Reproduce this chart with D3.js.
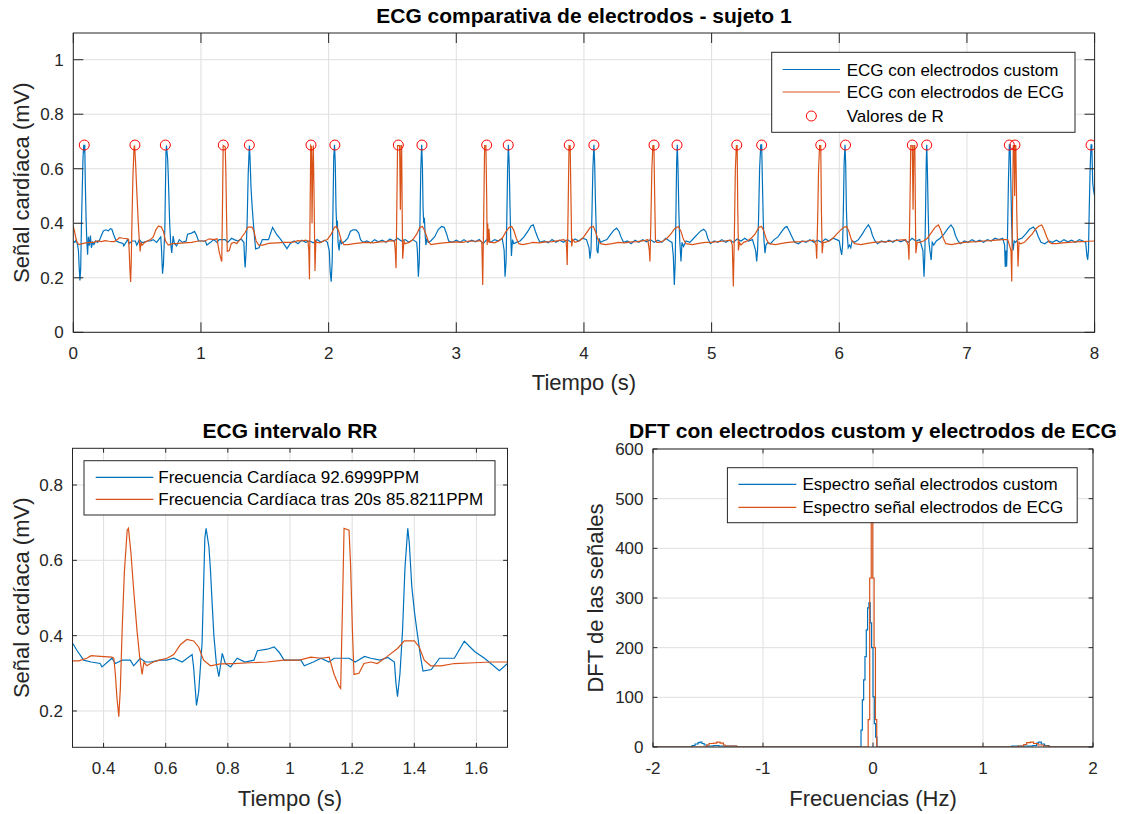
<!DOCTYPE html>
<html>
<head>
<meta charset="utf-8">
<script src="https://cdn.jsdelivr.net/npm/d3@7/dist/d3.min.js"></script>
<style>
body{margin:0;background:#fff}
svg{font-family:"Liberation Sans",Arial,Helvetica,sans-serif}
</style>
</head>
<body>
<svg id="fig" width="1132" height="814"></svg>
<script>
// ECG con electrodos custom  [tiempo (s), mV]
var ecgCustom=[
[0,0.335],[0.012,0.33],[0.022,0.338],[0.032,0.325],[0.040,0.30],[0.046,0.24],[0.052,0.19],[0.058,0.235],[0.064,0.40],[0.070,0.52],[0.076,0.64],[0.082,0.688],[0.086,0.66],[0.090,0.688],[0.094,0.55],[0.100,0.42],[0.106,0.335],[0.112,0.285],[0.118,0.35],[0.126,0.318],[0.134,0.355],[0.142,0.31],[0.152,0.33],[0.162,0.322],[0.175,0.335],[0.19,0.33],[0.205,0.338],[0.22,0.355],[0.235,0.372],[0.255,0.376],[0.275,0.372],[0.29,0.38],
[0.302,0.378],[0.315,0.36],[0.336,0.335],[0.36,0.33],[0.389,0.326],[0.395,0.317],[0.427,0.34],[0.438,0.326],[0.46,0.335],[0.486,0.335],[0.497,0.32],[0.518,0.34],[0.535,0.33],[0.551,0.33],[0.58,0.335],[0.604,0.335],[0.626,0.34],[0.653,0.33],[0.685,0.35],[0.69,0.314],[0.699,0.215],[0.706,0.25],[0.717,0.38],[0.726,0.66],[0.730,0.685],[0.739,0.636],[0.744,0.575],[0.75,0.477],[0.755,0.40],[0.763,0.326],[0.771,0.291],[0.782,0.353],[0.792,0.326],[0.809,0.317],[0.83,0.34],[0.855,0.33],[0.884,0.335],[0.895,0.36],[0.927,0.364],[0.949,0.37],[0.965,0.356],[0.981,0.335],[1.035,0.335],[1.046,0.32],[1.075,0.33],[1.10,0.34],[1.125,0.33],[1.142,0.34],[1.19,0.34],[1.21,0.33],[1.24,0.345],[1.26,0.34],[1.29,0.335],[1.315,0.342],[1.336,0.33],[1.341,0.274],[1.346,0.238],[1.354,0.30],[1.362,0.41],[1.37,0.58],[1.379,0.685],[1.384,0.645],[1.392,0.53],[1.401,0.46],[1.409,0.41],[1.42,0.345],[1.428,0.306],[1.455,0.31],[1.481,0.34],[1.529,0.34],[1.561,0.385],[1.594,0.358],[1.626,0.34],[1.674,0.307],[1.70,0.326],
[1.73,0.335],[1.76,0.325],[1.79,0.338],[1.82,0.33],[1.85,0.335],[1.88,0.328],[1.91,0.34],[1.94,0.33],[1.97,0.338],[1.99,0.33],[2.005,0.30],[2.012,0.223],[2.02,0.186],[2.028,0.26],[2.034,0.45],[2.040,0.64],[2.046,0.688],[2.052,0.62],[2.058,0.45],[2.064,0.38],[2.068,0.41],[2.074,0.33],[2.082,0.30],[2.09,0.34],[2.10,0.325],[2.115,0.33],[2.13,0.335],[2.15,0.345],[2.17,0.37],[2.19,0.376],[2.215,0.376],[2.235,0.365],[2.25,0.34],[2.27,0.33],[2.30,0.335],
[2.33,0.328],[2.36,0.34],[2.39,0.332],[2.42,0.338],[2.45,0.33],[2.48,0.342],[2.51,0.335],[2.54,0.345],[2.57,0.335],[2.60,0.34],[2.63,0.33],[2.66,0.34],[2.69,0.33],[2.695,0.30],[2.703,0.204],[2.71,0.26],[2.716,0.42],[2.722,0.60],[2.729,0.688],[2.735,0.60],[2.74,0.45],[2.745,0.40],[2.75,0.42],[2.756,0.36],[2.762,0.32],[2.77,0.345],[2.78,0.33],[2.80,0.335],[2.83,0.35],[2.86,0.378],[2.885,0.388],[2.905,0.385],[2.925,0.36],[2.94,0.335],[2.97,0.33],[3.00,0.338],
[3.03,0.33],[3.06,0.34],[3.09,0.33],[3.12,0.338],[3.15,0.332],[3.18,0.34],[3.21,0.325],[3.24,0.34],[3.27,0.33],[3.30,0.34],[3.33,0.335],[3.36,0.345],[3.375,0.30],[3.382,0.204],[3.39,0.26],[3.396,0.42],[3.402,0.60],[3.408,0.688],[3.414,0.62],[3.42,0.48],[3.426,0.36],[3.432,0.28],[3.44,0.34],[3.45,0.325],[3.47,0.33],[3.50,0.335],[3.53,0.35],[3.56,0.37],[3.585,0.39],[3.603,0.394],[3.62,0.37],[3.64,0.345],[3.655,0.33],[3.69,0.335],
[3.72,0.328],[3.75,0.34],[3.78,0.33],[3.81,0.338],[3.84,0.33],[3.87,0.34],[3.90,0.33],[3.93,0.342],[3.96,0.335],[3.99,0.345],[4.02,0.34],[4.04,0.31],[4.047,0.27],[4.055,0.30],[4.062,0.42],[4.070,0.60],[4.078,0.688],[4.084,0.62],[4.09,0.48],[4.096,0.38],[4.102,0.30],[4.11,0.29],[4.118,0.345],[4.13,0.33],[4.15,0.335],[4.18,0.34],[4.21,0.36],[4.235,0.375],[4.256,0.382],[4.275,0.37],[4.29,0.35],[4.31,0.33],[4.34,0.335],[4.37,0.325],[4.40,0.338],[4.43,0.33],[4.46,0.34],[4.49,0.332],[4.52,0.34],[4.55,0.33],[4.58,0.338],[4.61,0.33],[4.64,0.345],[4.67,0.335],[4.69,0.33],[4.70,0.28],[4.708,0.174],[4.715,0.26],[4.72,0.42],[4.726,0.62],[4.731,0.688],[4.737,0.60],[4.743,0.45],[4.75,0.34],[4.755,0.30],[4.76,0.26],[4.768,0.33],[4.78,0.315],[4.80,0.335],[4.83,0.33],[4.86,0.345],[4.89,0.36],[4.915,0.372],[4.938,0.378],[4.955,0.37],[4.97,0.345],[4.99,0.325],
[5.02,0.335],[5.05,0.33],[5.08,0.34],[5.11,0.33],[5.14,0.338],[5.17,0.33],[5.20,0.342],[5.23,0.335],[5.26,0.345],[5.29,0.335],[5.32,0.34],[5.345,0.30],[5.353,0.26],[5.36,0.30],[5.368,0.42],[5.376,0.60],[5.385,0.688],[5.392,0.688],[5.398,0.55],[5.404,0.42],[5.41,0.34],[5.418,0.29],[5.426,0.32],[5.44,0.33],[5.46,0.325],[5.49,0.34],[5.52,0.35],[5.55,0.37],[5.575,0.385],[5.59,0.388],[5.61,0.37],[5.63,0.35],[5.65,0.33],[5.68,0.325],[5.71,0.335],[5.74,0.33],[5.77,0.34],[5.80,0.33],[5.83,0.338],[5.86,0.33],[5.89,0.342],[5.92,0.335],[5.95,0.345],[5.98,0.34],[6.00,0.335],[6.012,0.30],[6.019,0.284],[6.026,0.32],[6.032,0.45],[6.038,0.62],[6.045,0.688],[6.05,0.62],[6.056,0.45],[6.062,0.36],[6.07,0.31],[6.08,0.32],[6.09,0.31],[6.10,0.335],[6.12,0.33],[6.15,0.34],[6.18,0.36],[6.205,0.38],[6.228,0.394],[6.245,0.38],[6.26,0.355],[6.28,0.335],[6.30,0.325],
[6.33,0.335],[6.36,0.33],[6.39,0.338],[6.42,0.33],[6.45,0.34],[6.48,0.332],[6.51,0.338],[6.54,0.33],[6.57,0.345],[6.60,0.335],[6.63,0.34],[6.655,0.30],[6.664,0.204],[6.67,0.28],[6.676,0.45],[6.681,0.62],[6.685,0.688],[6.69,0.60],[6.696,0.45],[6.702,0.33],[6.71,0.30],[6.72,0.265],[6.728,0.33],[6.74,0.32],[6.76,0.335],[6.79,0.345],[6.82,0.36],[6.85,0.38],[6.875,0.394],[6.895,0.38],[6.91,0.355],[6.93,0.335],[6.95,0.325],[6.98,0.335],
[7.01,0.33],[7.04,0.34],[7.07,0.332],[7.10,0.338],[7.13,0.33],[7.16,0.34],[7.19,0.335],[7.22,0.345],[7.25,0.34],[7.28,0.345],[7.295,0.32],[7.30,0.24],[7.306,0.30],[7.311,0.241],[7.318,0.36],[7.325,0.55],[7.332,0.688],[7.338,0.688],[7.344,0.55],[7.35,0.40],[7.356,0.33],[7.362,0.30],[7.37,0.335],[7.38,0.33],[7.40,0.34],[7.43,0.345],[7.46,0.36],[7.49,0.378],[7.52,0.386],[7.54,0.375],[7.56,0.35],[7.58,0.33],[7.61,0.325],[7.64,0.335],[7.67,0.33],[7.70,0.338],[7.73,0.33],[7.76,0.34],[7.79,0.332],[7.82,0.338],[7.85,0.33],[7.88,0.34],[7.91,0.335],[7.93,0.33],[7.94,0.28],[7.946,0.266],[7.952,0.30],[7.958,0.45],[7.965,0.60],[7.972,0.688],[7.978,0.688],[7.985,0.55],[7.992,0.52],[8.0,0.50]
]

// ECG con electrodos de ECG  [tiempo (s), mV]
var ecgStandard=[
[0,0.388],[0.01,0.37],[0.02,0.345],[0.03,0.33],[0.045,0.322],[0.07,0.325],[0.10,0.328],[0.13,0.33],[0.16,0.33],[0.19,0.335],[0.22,0.333],[0.25,0.336],[0.28,0.334],
[0.301,0.333],[0.32,0.333],[0.346,0.34],[0.36,0.347],[0.389,0.345],[0.427,0.343],[0.433,0.34],[0.438,0.297],[0.443,0.235],[0.449,0.185],[0.454,0.26],[0.46,0.42],[0.467,0.57],[0.476,0.68],[0.48,0.685],[0.488,0.62],[0.497,0.52],[0.508,0.41],[0.516,0.345],[0.524,0.297],[0.53,0.33],[0.539,0.32],[0.56,0.33],[0.58,0.335],[0.604,0.34],[0.626,0.35],[0.647,0.376],[0.668,0.39],[0.69,0.386],[0.706,0.37],[0.722,0.335],[0.744,0.32],[0.776,0.325],[0.819,0.326],[0.87,0.328],[0.927,0.33],[0.98,0.335],[1.03,0.335],[1.067,0.343],[1.10,0.34],[1.126,0.343],[1.142,0.297],[1.158,0.266],[1.163,0.26],[1.169,0.48],[1.174,0.685],[1.19,0.68],[1.195,0.587],[1.201,0.41],[1.206,0.297],[1.222,0.30],[1.238,0.326],[1.26,0.33],[1.281,0.326],[1.313,0.345],[1.346,0.366],[1.368,0.386],[1.40,0.386],[1.416,0.37],[1.432,0.335],[1.453,0.32],[1.486,0.32],[1.529,0.326],[1.594,0.328],[1.65,0.33],[1.70,0.33],
[1.73,0.332],[1.76,0.336],[1.79,0.335],[1.82,0.338],[1.838,0.335],[1.845,0.30],[1.850,0.195],[1.855,0.45],[1.860,0.685],[1.866,0.68],[1.870,0.40],[1.875,0.60],[1.880,0.685],[1.886,0.50],[1.893,0.225],[1.90,0.335],[1.91,0.33],[1.93,0.328],[1.96,0.335],[1.99,0.34],[2.02,0.36],[2.045,0.385],[2.063,0.388],[2.08,0.37],[2.10,0.335],[2.12,0.322],[2.15,0.322],[2.20,0.325],[2.25,0.328],[2.30,0.33],[2.35,0.328],[2.40,0.332],[2.45,0.333],[2.49,0.336],[2.515,0.335],
[2.522,0.30],[2.528,0.235],[2.534,0.45],[2.54,0.685],[2.556,0.685],[2.562,0.45],[2.568,0.685],[2.572,0.685],[2.577,0.40],[2.58,0.27],[2.59,0.335],[2.60,0.325],[2.63,0.33],[2.66,0.34],[2.69,0.36],[2.715,0.385],[2.735,0.388],[2.755,0.37],[2.78,0.335],[2.80,0.322],[2.85,0.325],[2.90,0.328],[2.95,0.33],[3.00,0.332],[3.05,0.33],[3.10,0.335],[3.15,0.334],[3.19,0.336],
[3.20,0.33],[3.207,0.174],[3.214,0.40],[3.222,0.685],[3.232,0.685],[3.238,0.50],[3.242,0.32],[3.246,0.40],[3.25,0.33],[3.256,0.38],[3.262,0.33],[3.275,0.33],[3.30,0.328],[3.33,0.335],[3.36,0.345],[3.39,0.37],[3.415,0.385],[3.434,0.388],[3.45,0.375],[3.47,0.345],[3.49,0.325],[3.52,0.322],[3.56,0.325],[3.60,0.33],[3.65,0.328],[3.70,0.332],[3.75,0.333],[3.80,0.336],[3.84,0.34],[3.86,0.335],
[3.865,0.30],[3.869,0.247],[3.876,0.45],[3.883,0.685],[3.892,0.685],[3.898,0.50],[3.904,0.315],[3.912,0.34],[3.93,0.33],[3.96,0.335],[3.99,0.345],[4.02,0.365],[4.05,0.385],[4.073,0.388],[4.09,0.37],[4.11,0.34],[4.13,0.325],[4.17,0.322],[4.22,0.325],[4.27,0.33],[4.32,0.328],[4.37,0.332],[4.42,0.333],[4.47,0.336],[4.50,0.34],
[4.512,0.30],[4.517,0.26],[4.524,0.40],[4.532,0.60],[4.540,0.685],[4.548,0.685],[4.554,0.50],[4.56,0.34],[4.57,0.33],[4.59,0.33],[4.62,0.335],[4.65,0.345],[4.68,0.36],[4.71,0.38],[4.739,0.388],[4.76,0.37],[4.78,0.34],[4.80,0.325],[4.85,0.322],[4.90,0.326],[4.95,0.33],[5.00,0.33],[5.05,0.333],[5.10,0.335],[5.15,0.338],
[5.162,0.32],[5.17,0.168],[5.178,0.35],[5.186,0.60],[5.194,0.685],[5.20,0.685],[5.205,0.45],[5.21,0.30],[5.218,0.33],[5.23,0.32],[5.25,0.33],[5.28,0.335],[5.31,0.345],[5.34,0.36],[5.37,0.385],[5.392,0.388],[5.41,0.37],[5.43,0.34],[5.45,0.325],[5.50,0.322],[5.55,0.326],[5.60,0.33],[5.65,0.332],[5.70,0.333],[5.75,0.335],[5.80,0.338],
[5.818,0.32],[5.823,0.27],[5.83,0.40],[5.838,0.60],[5.846,0.685],[5.855,0.685],[5.86,0.45],[5.866,0.29],[5.874,0.33],[5.89,0.33],[5.92,0.335],[5.95,0.345],[5.98,0.36],[6.01,0.375],[6.035,0.385],[6.058,0.388],[6.075,0.37],[6.095,0.34],[6.12,0.325],[6.17,0.322],[6.22,0.326],[6.27,0.33],[6.32,0.332],[6.37,0.333],[6.42,0.335],[6.47,0.338],[6.52,0.34],
[6.54,0.32],[6.546,0.266],[6.553,0.45],[6.56,0.685],[6.572,0.685],[6.578,0.45],[6.584,0.685],[6.592,0.685],[6.597,0.40],[6.60,0.29],[6.61,0.33],[6.63,0.33],[6.66,0.335],[6.69,0.345],[6.72,0.365],[6.75,0.385],[6.776,0.394],[6.795,0.375],[6.815,0.345],[6.835,0.325],[6.88,0.322],[6.93,0.326],[6.98,0.33],[7.03,0.332],[7.08,0.333],[7.13,0.335],[7.18,0.336],[7.23,0.338],[7.28,0.34],[7.32,0.34],[7.345,0.30],
[7.351,0.186],[7.357,0.45],[7.363,0.685],[7.37,0.685],[7.374,0.50],[7.378,0.685],[7.383,0.685],[7.39,0.45],[7.40,0.241],[7.408,0.33],[7.42,0.325],[7.45,0.33],[7.48,0.345],[7.51,0.36],[7.54,0.38],[7.565,0.39],[7.586,0.394],[7.605,0.375],[7.625,0.35],[7.645,0.33],[7.665,0.325],[7.70,0.325],[7.75,0.328],[7.80,0.33],[7.85,0.332],[7.90,0.333],[7.95,0.334],[8.0,0.335]
]

// Valores de R
var rPeakT=[0.086,0.483,0.721,1.175,1.379,1.862,2.049,2.546,2.731,3.238,3.407,3.885,4.078,4.549,4.729,5.197,5.392,5.855,6.049,6.572,6.685,7.332,7.376,7.972]
var rPeakV=[0.687,0.687,0.687,0.687,0.687,0.687,0.687,0.687,0.687,0.687,0.687,0.687,0.687,0.687,0.687,0.687,0.687,0.687,0.687,0.687,0.687,0.687,0.687,0.687]

// DFT  [frecuencia (Hz), magnitud]
var dftCustom=[[-2,0],[-1.66,0],[-1.645,3],[-1.618,6],[-1.59,9],[-1.573,10],[-1.555,7],[-1.535,4],[-1.51,2],[-1.45,3],[-1.40,2],[-1.30,2],[-1.24,0],
[-0.109,0],[-0.109,34],[-0.097,95],[-0.085,135],[-0.073,182],[-0.061,236],[-0.049,280],[-0.037,290],[-0.025,250],[-0.013,200],[0.0,101],[0.012,47],[0.024,20],[0.036,0],
[1.24,0],[1.26,2],[1.40,2],[1.45,3],[1.488,8],[1.505,10],[1.53,6],[1.56,3],[1.60,0],[2,0]]
var dftStandard=[[-2,0],[-1.53,0],[-1.512,4],[-1.49,7],[-1.45,8],[-1.421,10],[-1.39,8],[-1.36,4],[-1.345,2],[-1.24,0],
[-0.044,0],[-0.044,55],[-0.030,340],[-0.016,520],[-0.002,340],[0.010,200],[0.022,55],[0.034,0],
[1.24,0],[1.32,2],[1.37,5],[1.397,9],[1.43,10],[1.46,7],[1.50,4],[1.55,2],[1.60,0],[2,0]]

var topXTicks=[0,1,2,3,4,5,6,7,8]
var topYTicks=[0,0.2,0.4,0.6,0.8,1]
var rrXTicks=[0.4,0.6,0.8,1,1.2,1.4,1.6]
var rrYTicks=[0.2,0.4,0.6,0.8]
var dftXTicks=[-2,-1,0,1,2]
var dftYTicks=[0,100,200,300,400,500,600]

var blue='#0072BD', orange='#D95319', axisCol='#262626', gridCol='#dfdfdf'
var svg=d3.select('#fig')
svg.append('rect').attr('width',1132).attr('height',814).attr('fill','#fff')

function makeAxes(o)
{
    var x=d3.scaleLinear().domain(o.xDomain).range([o.left,o.right]),
        y=d3.scaleLinear().domain(o.yDomain).range([o.bottom,o.top])
    var g=svg.append('g').attr('id',o.id)
    g.append('clipPath').attr('id',o.id+'-clip')
        .append('rect').attr('x',o.left).attr('y',o.top)
        .attr('width',o.right-o.left).attr('height',o.bottom-o.top)
    var grid=g.append('g')
    grid.selectAll('.gx').data(o.xTicks).join('line')
        .attr('x1',d=>x(d)).attr('x2',d=>x(d)).attr('y1',o.top).attr('y2',o.bottom)
        .attr('stroke',gridCol).attr('stroke-width',1)
    grid.selectAll('.gy').data(o.yTicks).join('line')
        .attr('x1',o.left).attr('x2',o.right).attr('y1',d=>y(d)).attr('y2',d=>y(d))
        .attr('stroke',gridCol).attr('stroke-width',1)
    var plot=g.append('g').attr('clip-path','url(#'+o.id+'-clip)')
    var frame=g.append('g')
    return {x:x,y:y,g:g,plot:plot,frame:frame,o:o}
}

function finishAxes(ax)
{
    var o=ax.o, x=ax.x, y=ax.y, f=ax.frame, tl=o.tickLen
    f.append('rect').attr('x',o.left).attr('y',o.top)
        .attr('width',o.right-o.left).attr('height',o.bottom-o.top)
        .attr('fill','none').attr('stroke',axisCol).attr('stroke-width',1)
    var tx=f.append('g')
    o.xTicks.forEach(function(d){
        tx.append('line').attr('x1',x(d)).attr('x2',x(d)).attr('y1',o.bottom).attr('y2',o.bottom-tl).attr('stroke',axisCol)
        tx.append('line').attr('x1',x(d)).attr('x2',x(d)).attr('y1',o.top).attr('y2',o.top+tl).attr('stroke',axisCol)
        tx.append('text').attr('x',x(d)).attr('y',o.bottom+27).attr('text-anchor','middle')
            .attr('font-size',17).attr('fill',axisCol).text(o.xFmt(d))
    })
    o.yTicks.forEach(function(d){
        tx.append('line').attr('x1',o.left).attr('x2',o.left+tl).attr('y1',y(d)).attr('y2',y(d)).attr('stroke',axisCol)
        tx.append('line').attr('x1',o.right).attr('x2',o.right-tl).attr('y1',y(d)).attr('y2',y(d)).attr('stroke',axisCol)
        tx.append('text').attr('x',o.left-9.5).attr('y',y(d)+6).attr('text-anchor','end')
            .attr('font-size',17).attr('fill',axisCol).text(o.yFmt(d))
    })
    f.append('text').attr('x',(o.left+o.right)/2).attr('y',o.titleY).attr('text-anchor','middle')
        .attr('font-size',21).attr('font-weight','bold').attr('fill','#000').text(o.title)
    f.append('text').attr('x',(o.left+o.right)/2).attr('y',o.xLabelY).attr('text-anchor','middle')
        .attr('font-size',22).attr('fill',axisCol).text(o.xLabel)
    f.append('text').attr('transform','translate('+o.yLabelX+','+((o.top+o.bottom)/2)+') rotate(-90)')
        .attr('text-anchor','middle').attr('font-size',22).attr('fill',axisCol).text(o.yLabel)
}

function legend(parent,box,items)
{
    var lg=parent.append('g')
    lg.append('rect').attr('x',box.x0).attr('y',box.y0).attr('width',box.x1-box.x0).attr('height',box.y1-box.y0)
        .attr('fill','#fff').attr('stroke',axisCol).attr('stroke-width',1)
    items.forEach(function(it){
        if(it.marker)
            lg.append('circle').attr('cx',(box.l0+box.l1)/2).attr('cy',it.y).attr('r',5)
                .attr('fill','none').attr('stroke','#ff0000').attr('stroke-width',1)
        else
            lg.append('line').attr('x1',box.l0).attr('x2',box.l1).attr('y1',it.y).attr('y2',it.y)
                .attr('stroke',it.color).attr('stroke-width',1.2)
        lg.append('text').attr('x',box.tx).attr('y',it.y+6).attr('font-size',17).attr('fill','#000').text(it.text)
    })
}

var fmt=d=>String(d)

// ---- ECG comparativa ----
var top1=makeAxes({id:'ax-top',left:73.3,right:1094.6,top:33,bottom:332.3,xDomain:[0,8],yDomain:[0,1.098],
    xTicks:topXTicks,yTicks:topYTicks,tickLen:10,xFmt:fmt,yFmt:fmt,
    title:'ECG comparativa de electrodos - sujeto 1',titleY:23,xLabel:'Tiempo (s)',xLabelY:390,
    yLabel:'Señal cardíaca (mV)',yLabelX:29})
var lineTop=d3.line().x(d=>top1.x(d[0])).y(d=>top1.y(d[1]))
top1.plot.append('path').attr('d',lineTop(ecgCustom)).attr('fill','none').attr('stroke',blue).attr('stroke-width',1.2)
top1.plot.append('path').attr('d',lineTop(ecgStandard)).attr('fill','none').attr('stroke',orange).attr('stroke-width',1.2)
top1.plot.selectAll('circle').data(rPeakT).join('circle')
    .attr('cx',d=>top1.x(d)).attr('cy',(d,i)=>top1.y(rPeakV[i])).attr('r',5)
    .attr('fill','none').attr('stroke','#ff0000').attr('stroke-width',1)
finishAxes(top1)
legend(top1.frame,{x0:771.7,x1:1075,y0:52.3,y1:132.3,l0:782.7,l1:840,tx:846.7},[
    {y:69.5,color:blue,text:'ECG con electrodos custom'},
    {y:92,color:orange,text:'ECG con electrodos de ECG'},
    {y:116,marker:true,text:'Valores de R'}])

// ---- ECG intervalo RR ----
var rr=makeAxes({id:'ax-rr',left:72.5,right:507.5,top:448.3,bottom:747.3,xDomain:[0.3,1.7],yDomain:[0.1036,0.8974],
    xTicks:rrXTicks,yTicks:rrYTicks,tickLen:4.4,xFmt:fmt,yFmt:fmt,
    title:'ECG intervalo RR',titleY:438,xLabel:'Tiempo (s)',xLabelY:806,
    yLabel:'Señal cardíaca (mV)',yLabelX:29})
var lineRR=d3.line().x(d=>rr.x(d[0])).y(d=>rr.y(d[1]))
rr.plot.append('path').attr('d',lineRR(ecgCustom)).attr('fill','none').attr('stroke',blue).attr('stroke-width',1.2)
rr.plot.append('path').attr('d',lineRR(ecgStandard)).attr('fill','none').attr('stroke',orange).attr('stroke-width',1.2)
finishAxes(rr)
legend(rr.frame,{x0:84,x1:495,y0:460.7,y1:515,l0:95.7,l1:153.3,tx:158.3},[
    {y:477.3,color:blue,text:'Frecuencia Cardíaca 92.6999PPM'},
    {y:499.3,color:orange,text:'Frecuencia Cardíaca tras 20s 85.8211PPM'}])

// ---- DFT ----
var dft=makeAxes({id:'ax-dft',left:653,right:1093,top:449,bottom:747,xDomain:[-2,2],yDomain:[0,600],
    xTicks:dftXTicks,yTicks:dftYTicks,tickLen:4.4,xFmt:fmt,yFmt:fmt,
    title:'DFT con electrodos custom y electrodos de ECG',titleY:438,xLabel:'Frecuencias (Hz)',xLabelY:806,
    yLabel:'DFT de las señales',yLabelX:603})
var lineDft=d3.line().curve(d3.curveStepAfter).x(d=>dft.x(d[0])).y(d=>dft.y(d[1]))
dft.plot.append('path').attr('d',lineDft(dftCustom)).attr('fill','none').attr('stroke',blue).attr('stroke-width',1.2)
dft.plot.append('path').attr('d',lineDft(dftStandard)).attr('fill','none').attr('stroke',orange).attr('stroke-width',1.2)
finishAxes(dft)
legend(dft.frame,{x0:727.4,x1:1077.2,y0:467.7,y1:522.7,l0:738.4,l1:796.3,tx:802.5},[
    {y:484.3,color:blue,text:'Espectro señal electrodos custom'},
    {y:507.3,color:orange,text:'Espectro señal electrodos de ECG'}])
</script>
</body>
</html>
